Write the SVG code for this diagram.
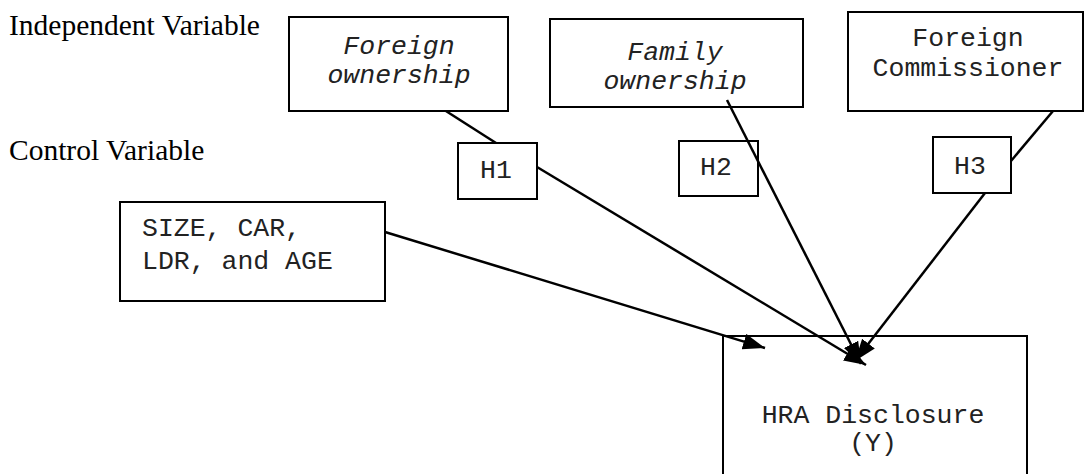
<svg xmlns="http://www.w3.org/2000/svg" width="1084" height="474" viewBox="0 0 1084 474">
<defs>
<style>
.box{fill:#fff;stroke:#000;stroke-width:2}
.mono{font-family:"Liberation Mono","Courier New",monospace;font-size:26.5px;fill:#222;text-anchor:middle}
.it{font-style:italic}
.lbl{font-family:"Liberation Serif","Times New Roman",serif;font-size:29.5px;fill:#000}
.edge{stroke:#000;stroke-width:2.5;fill:none}
</style>
<marker id="arr" markerUnits="userSpaceOnUse" markerWidth="24" markerHeight="18" refX="22" refY="8" orient="auto">
<path d="M0,0 L22,8 L0,16 z" fill="#000"/>
</marker>
</defs>
<rect width="1084" height="474" fill="#fff"/>
<text class="lbl" x="9" y="35">Independent Variable</text>
<text class="lbl" x="9" y="160">Control Variable</text>

<g id="hra-disclosure">
<rect class="box" x="723" y="336" width="304" height="160"/>
<text class="mono" x="873" y="423">HRA Disclosure</text>
<text class="mono" x="873" y="451">(Y)</text>
</g>

<g id="connectors">
<line class="edge" x1="424" y1="97" x2="496" y2="143"/>
<line class="edge" x1="537" y1="167" x2="866" y2="365" marker-end="url(#arr)"/>
<line class="edge" x1="1053" y1="111" x2="1011" y2="161"/>
<line class="edge" x1="985" y1="193" x2="855" y2="361" marker-end="url(#arr)"/>
<line class="edge" x1="385" y1="232" x2="765" y2="348" marker-end="url(#arr)"/>
</g>

<g id="foreign-ownership">
<rect class="box" x="289" y="17" width="219" height="94"/>
<text class="mono it" x="399" y="54">Foreign</text>
<text class="mono it" x="399" y="83">ownership</text>
</g>
<g id="family-ownership">
<rect class="box" x="550" y="19" width="253" height="88"/>
<text class="mono it" x="675" y="60">Family</text>
<text class="mono it" x="675" y="89">ownership</text>
</g>
<g id="foreign-commissioner">
<rect class="box" x="848" y="12" width="235" height="99"/>
<text class="mono" x="968" y="46">Foreign</text>
<text class="mono" x="968" y="76">Commissioner</text>
</g>
<g id="h1">
<rect class="box" x="458" y="143" width="79" height="56"/>
<text class="mono" x="496" y="178">H1</text>
</g>
<g id="h2">
<rect class="box" x="679" y="141" width="79" height="55"/>
<text class="mono" x="716" y="175">H2</text>
</g>
<g id="h3">
<rect class="box" x="933" y="137" width="78" height="56"/>
<text class="mono" x="970" y="174">H3</text>
</g>
<g id="controls">
<rect class="box" x="120" y="202" width="265" height="99"/>
<text class="mono" x="142" y="236" style="text-anchor:start">SIZE, CAR,</text>
<text class="mono" x="142" y="269" style="text-anchor:start">LDR, and AGE</text>
</g>

<g id="connectors-over">
<line class="edge" x1="727" y1="100" x2="861" y2="364" marker-end="url(#arr)"/>
</g>
</svg>
